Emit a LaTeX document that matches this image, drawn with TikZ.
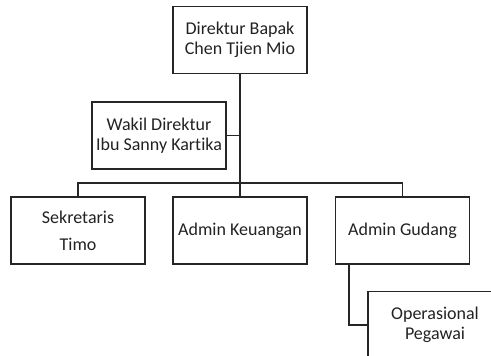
\documentclass[tikz,border=0pt]{standalone}
\usepackage{fontspec}
\setmainfont{Carlito}[Ligatures={NoCommon}]
\usetikzlibrary{calc}
\definecolor{txt}{HTML}{222222}
\tikzset{
  orgbox/.style={draw=black!85, line width=1.3pt, minimum width=134pt, minimum height=67pt,
    inner sep=0pt, align=center, text=txt, font=\fontsize{18}{20}\selectfont},
  link/.style={draw=black!85, line width=1.3pt},
  mainlink/.style={draw=black!85, line width=1.9pt}
}
\begin{document}
\begin{tikzpicture}[x=1pt,y=-1pt]
\useasboundingbox (0,0) rectangle (491,356);
\node[orgbox] (dir) at (240,40) {Direktur Bapak\\Chen Tjien Mio};
\node[orgbox] (wak) at (159,135.5) {Wakil Direktur\\Ibu Sanny Kartika};
\node[orgbox, font=\fontsize{18}{27}\selectfont] (sek) at (78,230.5) {Sekretaris\\Timo};
\node[orgbox] (keu) at (240,230.5) {Admin Keuangan};
\node[orgbox] (gud) at (402.5,230.5) {Admin Gudang};
\node[orgbox] (op) at (435,325) {Operasional\\Pegawai};
\coordinate (busL) at (78,183);
\coordinate (busR) at (402.5,183);
\coordinate (gudL) at ($(gud.south west)+(14,0)$);
\draw[mainlink] (dir.south) -- (keu.north);
\draw[link] (wak.east) -- (wak.east -| dir.south);
\draw[link] (sek.north) -- (busL) -- (busR) -- (gud.north);
\draw[link] (gudL) |- (op.west);
\end{tikzpicture}
\end{document}
